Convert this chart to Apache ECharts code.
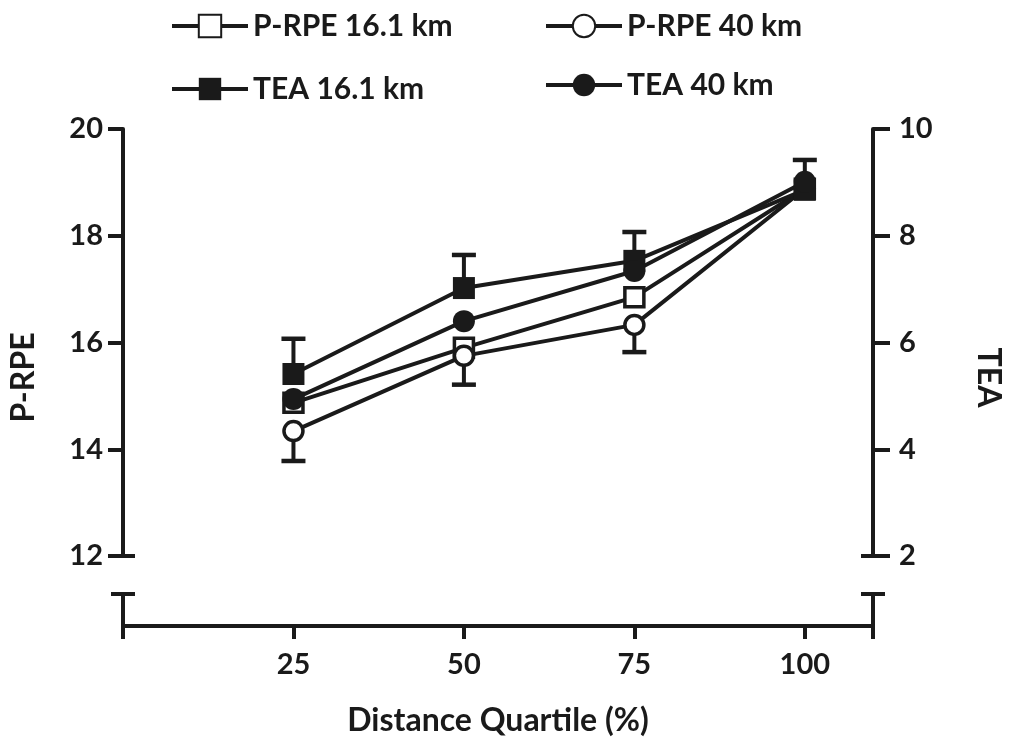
<!DOCTYPE html>
<html>
<head>
<meta charset="utf-8">
<script src="https://cdn.jsdelivr.net/npm/echarts@6/dist/echarts.min.js"></script>
<style>
html,body{margin:0;padding:0;background:#fff;}
#chart{width:1012px;height:744px;}
</style>
</head>
<body>
<div id="chart"></div>
<script>
var quartiles = [25, 50, 75, 100];
var xTickLabels = [25, 50, 75, 100];
var prpe161 = [14.87, 15.9, 16.85, 18.88];
var prpe40 = [14.34, 15.75, 16.33, 18.88];
var tea161 = [5.41, 7.02, 7.53, 8.86];
var tea40 = [4.94, 6.40, 7.34, 9.01];
var tea161ErrUp = [0.66, 0.62, 0.54, 0];
var prpe40ErrDown = [0.56, 0.54, 0.51, 0];
var tea40ErrUp = [0, 0, 0, 0.41];

var INK = '#1a1a1a';
var FONT = 'Lato';

function pairs(vals) { return quartiles.map(function (q, i) { return [q, vals[i]]; }); }
function errData(vals, errs, sign) {
  var out = [];
  quartiles.forEach(function (q, i) { if (errs[i] > 0) out.push([q, vals[i], sign * errs[i]]); });
  return out;
}
function renderErr(params, api) {
  var x = api.value(0), y = api.value(1), e = api.value(2);
  var p0 = api.coord([x, y]);
  var p1 = api.coord([x, y + e]);
  var hw = 12;
  return {
    type: 'group',
    children: [
      { type: 'line', shape: { x1: p0[0], y1: p0[1], x2: p1[0], y2: p1[1] }, style: { stroke: INK, lineWidth: 4 } },
      { type: 'line', shape: { x1: p1[0] - hw, y1: p1[1], x2: p1[0] + hw, y2: p1[1] }, style: { stroke: INK, lineWidth: 4.5 } }
    ]
  };
}
function lineSeries(name, vals, yIdx, symbol, open) {
  return {
    name: name, type: 'line', xAxisIndex: 0, yAxisIndex: yIdx,
    data: pairs(vals), symbol: symbol, symbolSize: open ? 19 : 22,
    lineStyle: { color: INK, width: 4 },
    itemStyle: open ? { color: '#fff', borderColor: INK, borderWidth: 3.5 } : { color: INK, borderWidth: 0 },
    z: 3, emphasis: { disabled: true }
  };
}
function errSeries(vals, errs, sign, yIdx) {
  return {
    type: 'custom', xAxisIndex: 0, yAxisIndex: yIdx,
    data: errData(vals, errs, sign), renderItem: renderErr,
    encode: { x: 0, y: 1 }, z: 1, silent: true
  };
}
function legendItem(name, left, top) {
  return {
    data: [name], left: left, top: top, itemWidth: 76, itemHeight: 28,
    lineStyle: { width: 4 },
    textStyle: { fontFamily: FONT, fontWeight: 'bold', fontSize: 30, color: INK },
    selectedMode: false
  };
}

var labelFont = { fontFamily: FONT, fontWeight: 'bold', fontSize: 29, color: INK };
var titleFont = { fontFamily: FONT, fontWeight: 'bold', fontSize: 32, color: INK };
var capLine = { show: true, onZero: false, lineStyle: { color: INK, width: 4 }, symbolSize: [24, 4] };

var chart = echarts.init(document.getElementById('chart'));
chart.setOption({
  animation: false,
  backgroundColor: '#fff',
  legend: [
    legendItem('P-RPE 16.1 km', 165, 6),
    legendItem('P-RPE 40 km', 539, 6),
    legendItem('TEA 16.1 km', 165, 69),
    legendItem('TEA 40 km', 539, 65)
  ],
  grid: [
    { left: 123, right: 139, top: 129, height: 427 },
    { left: 123, right: 139, top: 594, height: 32 },
    { left: 123, right: 139, top: 129, height: 497 }
  ],
  xAxis: [
    { type: 'value', gridIndex: 0, min: 0, max: 110, show: false },
    {
      type: 'value', gridIndex: 1, min: 0, max: 110,
      axisLine: { show: true, onZero: false, lineStyle: { color: INK, width: 4 } },
      axisTick: { show: true, length: 13, lineStyle: { color: INK, width: 4 }, customValues: [0, 25, 50, 75, 100, 110] },
      axisLabel: Object.assign({ margin: 24, customValues: xTickLabels }, labelFont),
      splitLine: { show: false },
      name: 'Distance Quartile (%)', nameLocation: 'middle', nameGap: 79,
      nameTextStyle: titleFont
    },
    { type: 'value', gridIndex: 2, min: 0, max: 110, show: false }
  ],
  yAxis: [
    {
      type: 'value', gridIndex: 0, position: 'left', min: 12, max: 20, interval: 2,
      axisLine: Object.assign({ symbol: ['rect', 'none'] }, capLine),
      axisTick: { show: true, length: 15, lineStyle: { color: INK, width: 4 } },
      axisLabel: Object.assign({ margin: 20 }, labelFont),
      splitLine: { show: false }
    },
    {
      type: 'value', gridIndex: 0, position: 'right', min: 2, max: 10, interval: 2,
      axisLine: Object.assign({ symbol: ['rect', 'none'] }, capLine),
      axisTick: { show: true, length: 17, lineStyle: { color: INK, width: 4 } },
      axisLabel: Object.assign({ margin: 26 }, labelFont),
      splitLine: { show: false }
    },
    {
      type: 'value', gridIndex: 1, position: 'left', min: 0, max: 1,
      axisLine: Object.assign({ symbol: ['none', 'rect'] }, capLine),
      axisTick: { show: false }, axisLabel: { show: false }, splitLine: { show: false }
    },
    {
      type: 'value', gridIndex: 1, position: 'right', min: 0, max: 1,
      axisLine: Object.assign({ symbol: ['none', 'rect'] }, capLine),
      axisTick: { show: false }, axisLabel: { show: false }, splitLine: { show: false }
    },
    {
      type: 'value', gridIndex: 2, position: 'left', min: 0, max: 1,
      axisLine: { show: false }, axisTick: { show: false }, axisLabel: { show: false }, splitLine: { show: false },
      name: 'P-RPE', nameLocation: 'middle', nameGap: 83,
      nameTextStyle: titleFont
    },
    {
      type: 'value', gridIndex: 2, position: 'right', min: 0, max: 1,
      axisLine: { show: false }, axisTick: { show: false }, axisLabel: { show: false }, splitLine: { show: false },
      name: 'TEA', nameLocation: 'middle', nameGap: 103, nameRotate: -90,
      nameTextStyle: titleFont
    }
  ],
  series: [
    errSeries(tea161, tea161ErrUp, 1, 1),
    errSeries(prpe40, prpe40ErrDown, -1, 0),
    errSeries(tea40, tea40ErrUp, 1, 1),
    lineSeries('P-RPE 16.1 km', prpe161, 0, 'rect', true),
    lineSeries('P-RPE 40 km', prpe40, 0, 'circle', true),
    lineSeries('TEA 16.1 km', tea161, 1, 'rect', false),
    lineSeries('TEA 40 km', tea40, 1, 'circle', false)
  ]
});
</script>
</body>
</html>
